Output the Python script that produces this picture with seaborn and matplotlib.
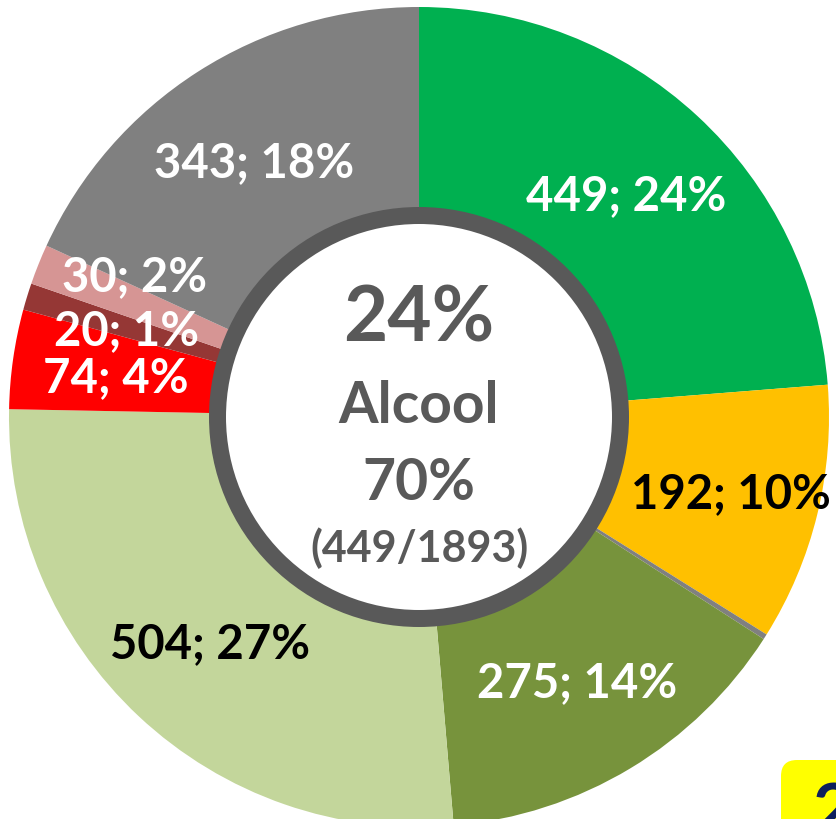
import matplotlib
matplotlib.use("Agg")
import matplotlib.pyplot as plt
from matplotlib.patches import Circle, FancyBboxPatch
import numpy as np
import seaborn as sns

sns.set_style("white")
plt.rcParams['font.family'] = ['Lato', 'DejaVu Sans']

# Data (clockwise from top)
values = [449, 192, 4, 275, 504, 74, 20, 30, 343]
pct_labels = ["24%", "10%", "", "14%", "27%", "4%", "1%", "2%", "18%"]
colors = ["#00B050", "#FFC000", "#808080", "#77933C", "#C3D69B",
          "#FF0000", "#953735", "#D69594", "#808080"]
text_colors = ["white", "black", "white", "white", "black",
               "white", "white", "white", "white"]
center_lines = ["24%", "Alcool", "70%", "(449/1893)"]
badge_text = "2"

W, H = 836, 819
fig = plt.figure(figsize=(W / 100, H / 100), dpi=100)
ax = fig.add_axes([0, 0, 1, 1])
ax.set_xlim(0, W)
ax.set_ylim(0, H)
ax.set_aspect('equal')
ax.axis('off')

cx, cy = 419, H - 417
R = 410
wedges, _ = ax.pie(values, colors=colors, startangle=90, counterclock=False,
                   center=(cx, cy), radius=R, frame=True,
                   wedgeprops=dict(width=R - 200, linewidth=0))
ax.set_xlim(0, W)
ax.set_ylim(0, H)
ax.axis('off')

# Inner ring
ax.add_patch(Circle((cx, cy), 201.5, facecolor="white", edgecolor="#595959",
                    linewidth=17 * 0.72, zorder=5))

# Slice labels
label_r = 306
extra_dy = {7: 30}
extra_dx = {1: 15}
for i, (w, v, p) in enumerate(zip(wedges, values, pct_labels)):
    if not p:
        continue
    ang = np.deg2rad((w.theta1 + w.theta2) / 2)
    x = cx + label_r * np.cos(ang) + extra_dx.get(i, 0)
    y = cy + label_r * np.sin(ang) + extra_dy.get(i, 0)
    ax.text(x, y, f"{v}; {p}", ha="center", va="center_baseline",
            color=text_colors[i], fontsize=34, fontweight="bold", zorder=6)

# Center text
gray = "#595959"
ax.text(cx, H - 342, center_lines[0], ha="center", va="baseline", color=gray,
        fontsize=55, fontweight="bold", zorder=7)
ax.text(cx, H - 423, center_lines[1], ha="center", va="baseline", color=gray,
        fontsize=41, fontweight="bold", zorder=7)
ax.text(cx, H - 500, center_lines[2], ha="center", va="baseline", color=gray,
        fontsize=41, fontweight="bold", zorder=7)
ax.text(cx, H - 562, center_lines[3], ha="center", va="baseline", color=gray,
        fontsize=31, fontweight="bold", zorder=7)

# Yellow badge (cropped at the figure edge, as in the reference)
ax.add_patch(FancyBboxPatch((781, -60), 120, 60 + (H - 760),
                            boxstyle="round,pad=0,rounding_size=16",
                            facecolor="#FFFF00", edgecolor="none", zorder=8))
ax.text(812, H - 782, badge_text, ha="left", va="top", color="#0D1F5C",
        fontsize=50, fontweight="bold", zorder=9)

fig.savefig("out.png", dpi=100)
